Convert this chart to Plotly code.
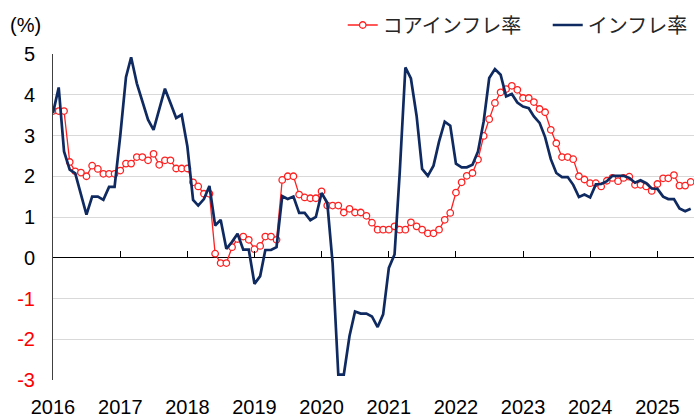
import pandas as pd
import plotly.graph_objects as go

months = pd.date_range("2016-01-01", periods=115, freq="MS")

core_inflation = [
    3.6, 3.6, 3.6, 2.35, 2.12, 2.09, 2.0, 2.26, 2.18, 2.06, 2.06, 2.06,
    2.14, 2.31, 2.31, 2.47, 2.47, 2.39, 2.55, 2.28, 2.39, 2.39, 2.19, 2.19,
    2.19, 1.85, 1.75, 1.57, 1.57, 0.1, -0.13, -0.13, 0.26, 0.46, 0.52, 0.44,
    0.21, 0.29, 0.52, 0.52, 0.44, 1.91, 2.0, 2.0, 1.55, 1.48, 1.46, 1.46,
    1.63, 1.28, 1.28, 1.28, 1.11, 1.2, 1.11, 1.11, 1.03, 0.86, 0.69, 0.69,
    0.69, 0.77, 0.69, 0.69, 0.87, 0.77, 0.69, 0.6, 0.6, 0.69, 0.93, 1.1,
    1.6, 1.85, 2.01, 2.08, 2.41, 2.99, 3.4, 3.8, 4.06, 4.14, 4.22, 4.12,
    3.92, 3.92, 3.82, 3.65, 3.57, 3.14, 2.81, 2.47, 2.47, 2.42, 2.0, 1.92,
    1.83, 1.83, 1.75, 1.89, 1.96, 1.88, 1.96, 1.99, 1.79, 1.79, 1.75, 1.64,
    1.81, 1.95, 1.95, 2.03, 1.77, 1.77, 1.86,
]

inflation = [
    3.55, 4.18, 2.61, 2.16, 2.07, 1.59, 1.06, 1.5, 1.5, 1.42, 1.74, 1.74,
    3.0, 4.43, 4.92, 4.28, 3.84, 3.39, 3.14, 3.67, 4.15, 3.8, 3.43, 3.51,
    2.73, 1.42, 1.28, 1.44, 1.76, 0.79, 0.93, 0.22, 0.39, 0.59, 0.2, 0.2,
    -0.64, -0.45, 0.19, 0.19, 0.26, 1.51, 1.44, 1.5, 1.1, 1.1, 0.92, 1.0,
    1.59, 1.35, -0.13, -2.87, -2.87, -1.92, -1.32, -1.37, -1.37, -1.44, -1.7, -1.39,
    -0.25, 0.08, 2.08, 4.67, 4.4, 3.48, 2.18, 2.01, 2.26, 2.85, 3.34, 3.24,
    2.31, 2.22, 2.22, 2.28, 2.61, 3.35, 4.41, 4.63, 4.49, 3.96, 4.02, 3.81,
    3.71, 3.67, 3.47, 3.31, 2.96, 2.42, 2.08, 1.98, 1.98, 1.79, 1.49, 1.55,
    1.48, 1.8, 1.81, 1.88, 2.01, 2.01, 2.01, 1.96, 1.84, 1.9, 1.83, 1.7,
    1.69, 1.5, 1.44, 1.44, 1.21, 1.14, 1.2,
]

year_ticks = pd.date_range("2016-01-01", "2025-01-01", freq="YS")
year_labels = [str(d.year) for d in year_ticks]

y_ticks = [-3, -2, -1, 0, 1, 2, 3, 4, 5]
y_labels = [
    f'<span style="color:#FF0000">{v}</span>' if v < 0 else str(v) for v in y_ticks
]

series_names = ["コアインフレ率", "インフレ率"]

LABEL_FONT = "Liberation Sans, Arial, sans-serif"
CJK_FONT = "Noto Sans CJK JP, sans-serif"
x_range = ["2016-01-01", "2025-07-19"]

fig = go.Figure()
fig.add_trace(go.Scatter(
    x=months, y=core_inflation, name=series_names[0], mode="lines+markers",
    line=dict(color="#FF2020", width=1.3),
    marker=dict(symbol="circle", size=6.5, color="white",
                line=dict(color="#FF2020", width=1.3)),
))
fig.add_trace(go.Scatter(
    x=months, y=inflation, name=series_names[1], mode="lines",
    line=dict(color="#0F2A60", width=2.7),
))
# invisible helper trace so the zero-level tick axis is drawn
fig.add_trace(go.Scatter(
    x=[months[0]], y=[None], xaxis="x2", yaxis="y", showlegend=False,
    hoverinfo="skip", mode="lines",
))

fig.update_layout(
    width=694, height=419,
    margin=dict(l=53, r=0, t=54, b=39, autoexpand=False),
    paper_bgcolor="white", plot_bgcolor="white",
    font=dict(family=LABEL_FONT, size=20, color="#000000"),
    showlegend=True,
    legend=dict(
        orientation="h", x=0.452, xanchor="left", y=1.089, yanchor="middle",
        font=dict(family=CJK_FONT, size=20, color="#262626"),
        bgcolor="rgba(0,0,0,0)", itemwidth=30, tracegroupgap=0,
        entrywidth=160, entrywidthmode="pixels",
    ),
    xaxis=dict(
        type="date", range=x_range,
        tickvals=list(year_ticks), ticktext=year_labels,
        showgrid=False, showline=False, zeroline=False, ticks="",
        tickfont=dict(family=LABEL_FONT, size=20, color="#000000"),
        ticklabelstandoff=13,
    ),
    xaxis2=dict(
        type="date", range=x_range, overlaying="x", anchor="free",
        position=0.375, side="bottom",
        tickvals=list(year_ticks), showticklabels=False,
        showgrid=False, showline=False, zeroline=False,
        ticks="inside", ticklen=7, tickwidth=1, tickcolor="#000000",
    ),
    yaxis=dict(
        range=[-3, 5], tickvals=y_ticks, ticktext=y_labels,
        showgrid=True, gridcolor="#D9D9D9", gridwidth=1,
        zeroline=True, zerolinecolor="#000000", zerolinewidth=1.2,
        showline=True, linecolor="#404040", linewidth=1,
        ticks="", ticklabelstandoff=13,
        tickfont=dict(family=LABEL_FONT, size=20, color="#000000"),
    ),
    annotations=[dict(
        text="(%)", xref="paper", yref="paper", x=0, y=1,
        xshift=-28, yshift=29, showarrow=False, xanchor="center", yanchor="middle",
        font=dict(family=LABEL_FONT, size=20, color="#000000"),
    )],
)

fig.write_html(
    "out.html",
    config={"displayModeBar": False},
    post_script="document.body.style.margin='0';document.body.style.padding='0';",
)
